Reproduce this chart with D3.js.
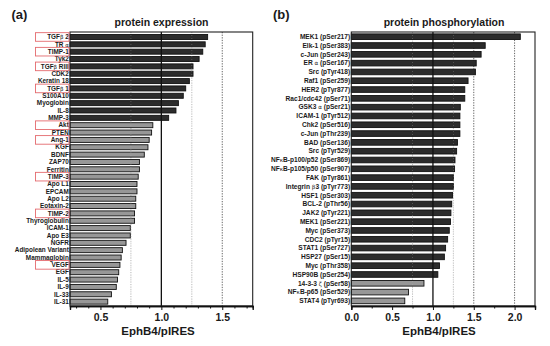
<!DOCTYPE html>
<html><head><meta charset="utf-8">
<script src="https://cdn.jsdelivr.net/npm/d3@7"></script>
<style>
body{margin:0;background:#fff}
svg{display:block}
text{font-family:"Liberation Sans",Arial,sans-serif;font-weight:bold;fill:#1a1a1a}
</style>
</head><body>
<svg id="c" width="550" height="346"></svg>
<script>
// ---------- data ----------
const expressionLabels = ["TGFβ 2","TR α","TIMP-1","Tyk2","TGFβ RIII","CDK2","Keratin 18","TGFβ 1","S100A10","Myoglobin","IL-8","MMP-3","Akt","PTEN","Ang-1","KGF","BDNF","ZAP70","Ferritin","TIMP-3","Apo L1","EPCAM","Apo L2","Eotaxin-2","TIMP-2","Thyroglobulin","ICAM-1","Apo E3","NGFR","Adipolean Variant","Mammaglobin","VEGF","EGF","IL-5","IL-9","IL-33","IL-31"];
const expressionValues = [1.38,1.36,1.34,1.31,1.26,1.26,1.23,1.20,1.18,1.14,1.12,1.06,0.93,0.92,0.90,0.89,0.86,0.82,0.82,0.81,0.80,0.80,0.79,0.79,0.78,0.78,0.745,0.745,0.71,0.68,0.67,0.66,0.65,0.64,0.63,0.59,0.56];
const expressionUp = 12; // first N bars are up-regulated (dark)
const expressionBoxed = ["TGFβ 2","TIMP-1","TGFβ RIII","TGFβ 1","Akt","Ang-1","TIMP-3","TIMP-2","VEGF"];
const expressionDomain = [0.25, 1.75];
const expressionTicks = [0.5, 1.0, 1.5];

const phosphoLabels = ["MEK1 (pSer217)","Elk-1 (pSer383)","c-Jun (pSer243)","ER α (pSer167)","Src (pTyr418)","Raf1 (pSer259)","HER2 (pTyr877)","Rac1/cdc42 (pSer71)","GSK3 α (pSer21)","ICAM-1 (pTyr512)","Chk2 (pSer516)","c-Jun (pThr239)","BAD (pSer136)","Src (pTyr529)","NFκB-p100/p52 (pSer869)","NFκB-p105/p50 (pSer907)","FAK (pTyr861)","Integrin β3 (pTyr773)","HSF1 (pSer303)","BCL-2 (pThr56)","JAK2 (pTyr221)","MEK1 (pSer221)","Myc (pSer373)","CDC2 (pTyr15)","STAT1 (pSer727)","HSP27 (pSer15)","Myc (pThr358)","HSP90B (pSer254)","14-3-3 ζ (pSer58)","NFκB-p65 (pSer529)","STAT4 (pTyr693)"];
const phosphoValues = [2.07,1.64,1.59,1.53,1.52,1.43,1.39,1.39,1.335,1.33,1.33,1.33,1.30,1.29,1.27,1.265,1.25,1.25,1.24,1.23,1.22,1.215,1.20,1.18,1.155,1.14,1.08,1.06,0.89,0.70,0.655];
const phosphoUp = 28;
const phosphoDomain = [0, 2.25];
const phosphoTicks = [0.0, 0.5, 1.0, 1.5, 2.0];

const refSolid = [1.0];
const refLight = [0.75, 1.25];
const refDarkA = [1.5];
const refDarkB = [1.5, 2.0];

// ---------- drawing ----------
const svg = d3.select("#c");
const greek = /[αβζκ]/;

function panel(o){
  const g = svg.append("g");
  const x = d3.scaleLinear().domain(o.domain).range([o.x0, o.x1]);
  const y = d3.scaleBand().domain(o.labels).range([o.y0b, o.y1b]).paddingInner(o.pad).paddingOuter(o.pad/2);
  const top = 32, bottom = 306;

  // reference lines
  g.selectAll(".rl").data(o.light).join("line")
    .attr("x1", d=>x(d)).attr("x2", d=>x(d)).attr("y1", top).attr("y2", bottom)
    .attr("stroke", "#b5b5b5").attr("stroke-width", 0.8).attr("stroke-dasharray", "1.2,1.2");
  g.selectAll(".rd").data(o.dark).join("line")
    .attr("x1", d=>x(d)).attr("x2", d=>x(d)).attr("y1", top).attr("y2", bottom)
    .attr("stroke", "#555").attr("stroke-width", 0.9).attr("stroke-dasharray", "1.3,1.3");

  // bars
  g.selectAll(".bar").data(o.values).join("rect")
    .attr("x", x(o.domain[0])).attr("y", (d,i)=>y(o.labels[i]))
    .attr("width", d=>x(d)-x(o.domain[0])).attr("height", y.bandwidth())
    .attr("fill", (d,i)=> i < o.up ? "#2c2c2c" : "#979797")
    .attr("stroke", "#111").attr("stroke-width", 0.9);

  // light lines over bars (faint)
  g.selectAll(".rl2").data(o.light).join("line")
    .attr("x1", d=>x(d)).attr("x2", d=>x(d)).attr("y1", top).attr("y2", bottom)
    .attr("stroke", "#bbb").attr("stroke-width", 0.6).attr("stroke-dasharray", "1,2").attr("opacity", 0.5);

  // solid reference line
  g.selectAll(".rs").data(o.solid).join("line")
    .attr("x1", d=>x(d)).attr("x2", d=>x(d)).attr("y1", top).attr("y2", bottom)
    .attr("stroke", "#111").attr("stroke-width", 1.3);

  // frame
  g.append("rect").attr("x", o.x0).attr("y", top).attr("width", o.x1-o.x0).attr("height", bottom-top)
    .attr("fill", "none").attr("stroke", "#222").attr("stroke-width", 1.1);

  // bottom axis
  const minor = d3.range(Math.ceil(o.domain[0]/o.minorStep - 1e-9), Math.floor(o.domain[1]/o.minorStep + 1e-9)+1)
      .map(k => +(k*o.minorStep).toFixed(3)).filter(v => !o.ticks.some(t => Math.abs(t-v)<1e-6));
  const axMinor = g.append("g").attr("transform", `translate(0,${bottom})`)
    .call(d3.axisBottom(x).tickValues(minor).tickSize(2.5).tickFormat(""));
  const axMajor = g.append("g").attr("transform", `translate(0,${bottom})`)
    .call(d3.axisBottom(x).tickValues(o.ticks).tickSize(4).tickPadding(4).tickFormat(d3.format(".1f")));
  [axMinor, axMajor].forEach(a => {
    a.select(".domain").attr("stroke", "#111").attr("stroke-width", 1.3);
    a.selectAll(".tick line").attr("stroke", "#111").attr("stroke-width", 1);
  });
  axMajor.selectAll(".tick text").attr("font-size", 10.5).attr("font-family", null).attr("fill", "#1a1a1a");

  // category labels
  const lab = g.selectAll(".lab").data(o.labels).join("text")
    .attr("x", o.x0 - 1.2).attr("y", d => y(d) + y.bandwidth()/2)
    .attr("dy", "0.35em").attr("text-anchor", "end").attr("font-size", o.labelSize);
  lab.each(function(d){
    const t = d3.select(this);
    d.split(/([αβζκ])/).filter(s=>s.length).forEach(s => {
      const ts = t.append("tspan").text(s);
      if (greek.test(s)) ts.attr("font-weight", "normal").attr("font-family", "DejaVu Sans").attr("font-size", o.labelSize*0.85);
    });
  });

  // highlighted boxes
  if (o.boxed) {
    g.selectAll(".box").data(o.boxed).join("rect")
      .attr("x", 35.5).attr("y", d => y(d) + y.bandwidth()/2 - 4.3)
      .attr("width", o.x0 - 1 - 35.5).attr("height", 8.6)
      .attr("fill", "none").attr("stroke", "#e46a6e").attr("stroke-width", 0.9);
  }

  // title, axis title, panel letter
  g.append("text").attr("x", o.titleX).attr("y", 26).attr("text-anchor", "middle")
    .attr("font-size", 10.5).text(o.title);
  g.append("text").attr("x", o.axisTitleX).attr("y", 335).attr("text-anchor", "middle")
    .attr("font-size", 11.5).text("EphB4/pIRES");
  g.append("text").attr("x", o.letterX).attr("y", 18.5).attr("font-size", 13).text(o.letter);
}

panel({labels: expressionLabels, values: expressionValues, up: expressionUp, boxed: expressionBoxed,
  domain: expressionDomain, ticks: expressionTicks, minorStep: 0.1,
  x0: 70, x1: 252.7, y0b: 33.3, y1b: 305.3, pad: 0.32, labelSize: 6.4,
  light: refLight, dark: refDarkA, solid: refSolid,
  title: "protein expression", titleX: 161.5, axisTitleX: 158, letter: "(a)", letterX: 11.5});

panel({labels: phosphoLabels, values: phosphoValues, up: phosphoUp,
  domain: phosphoDomain, ticks: phosphoTicks, minorStep: 0.25,
  x0: 351.3, x1: 535, y0b: 32.3, y1b: 305.3, pad: 0.36, labelSize: 6.6,
  light: refLight, dark: refDarkB, solid: refSolid,
  title: "protein phosphorylation", titleX: 444, axisTitleX: 439, letter: "(b)", letterX: 273});
</script>
</body></html>
